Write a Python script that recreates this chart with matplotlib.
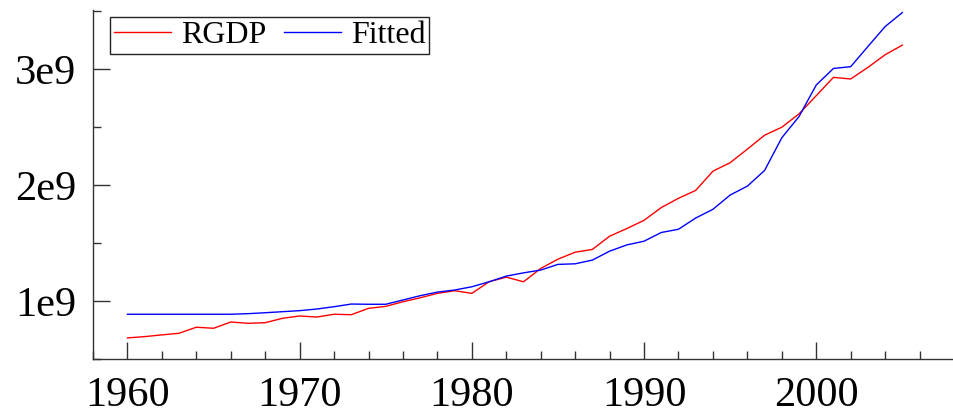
import matplotlib
matplotlib.use("Agg")
import matplotlib.pyplot as plt
from matplotlib.ticker import MultipleLocator
import numpy as np

plt.rcParams['font.family'] = ['Liberation Serif', 'DejaVu Serif']

years = list(range(1960, 2006))
rgdp = [0.682, 0.693, 0.708, 0.722, 0.774, 0.765, 0.819, 0.808, 0.813, 0.851,
        0.871, 0.862, 0.886, 0.882, 0.937, 0.954, 0.994, 1.028, 1.066, 1.089,
        1.066, 1.166, 1.206, 1.166, 1.281, 1.361, 1.421, 1.445, 1.559, 1.625,
        1.696, 1.806, 1.886, 1.954, 2.120, 2.193, 2.310, 2.430, 2.499, 2.614,
        2.771, 2.929, 2.915, 3.015, 3.124, 3.207]
fitted = [0.886, 0.886, 0.886, 0.886, 0.886, 0.886, 0.886, 0.891, 0.899, 0.908,
          0.917, 0.931, 0.951, 0.974, 0.972, 0.972, 1.009, 1.046, 1.077, 1.095,
          1.123, 1.166, 1.215, 1.243, 1.267, 1.316, 1.321, 1.353, 1.430, 1.484,
          1.516, 1.591, 1.619, 1.716, 1.791, 1.914, 1.991, 2.126, 2.408, 2.591,
          2.863, 3.006, 3.021, 3.195, 3.367, 3.488]
rgdp = np.array(rgdp) * 1e9
fitted = np.array(fitted) * 1e9

fig = plt.figure(figsize=(9.54, 4.13), dpi=100)
ax = fig.add_axes([93/954, 54/413, 861/954, 349/413])

ax.plot(years, rgdp, color='red', lw=1.0, label='RGDP')
ax.plot(years, fitted, color='blue', lw=1.0, label='Fitted')

ax.set_xlim(1958, 2008)
ax.set_ylim(0.5e9, 3.51e9)
ax.xaxis.set_minor_locator(MultipleLocator(2))
ax.yaxis.set_minor_locator(MultipleLocator(0.5e9))
ax.set_yticks([1e9, 2e9, 3e9])
ax.set_yticklabels(['1e9', '2e9', '3e9'])
ax.set_xticks([1960, 1970, 1980, 1990, 2000])
ax.set_xticklabels(['1960', '1970', '1980', '1990', '2000'])

for s in ['top', 'right']:
    ax.spines[s].set_visible(False)
for s in ['left', 'bottom']:
    ax.spines[s].set_color('#333333')
    ax.spines[s].set_linewidth(1.0)

ax.tick_params(which='major', direction='in', length=12, width=1.0, color='#333333', labelsize=30.5)
ax.tick_params(axis='y', which='major', pad=12)
ax.tick_params(axis='x', which='major', pad=12.5)
ax.tick_params(which='minor', direction='in', length=6, width=1.0, color='#333333')

leg = ax.legend(loc='upper left', bbox_to_anchor=(17/861, 1 - 7/349), borderaxespad=0,
                ncol=2, fontsize=23, frameon=True, fancybox=False, shadow=False,
                handlelength=1.8, handletextpad=0.3, columnspacing=0.55,
                borderpad=0.12)
leg.get_frame().set_edgecolor('#222222')
leg.get_frame().set_linewidth(1.0)
leg.get_frame().set_alpha(1)

fig.savefig('out.png', dpi=100)
